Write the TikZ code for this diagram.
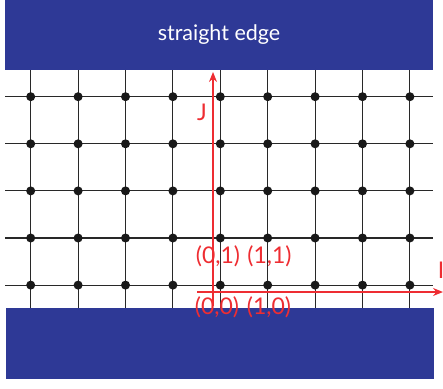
\documentclass[tikz,border=0pt]{standalone}
\usepackage{fontspec}
\setmainfont{Lato}
\usetikzlibrary{arrows.meta}
\definecolor{edgeblue}{RGB}{46,57,150}
\definecolor{axisred}{RGB}{238,45,50}
\definecolor{gridgray}{RGB}{40,40,40}
\begin{document}
\begin{tikzpicture}[x=1pt,y=-1pt,
  gridline/.style={draw=gridgray,line width=1.1pt},
  dot/.style={circle,fill=black!90,inner sep=0pt,minimum size=9pt},
  edgebar/.style={fill=edgeblue,inner sep=0pt,minimum width=428pt,minimum height=70pt},
  axis/.style={draw=axisred,line width=1.4pt,-{Stealth[length=10pt,width=8pt]}},
  lbl/.style={text=axisred,inner sep=0pt,font=\fontsize{23}{23}\selectfont}]
\useasboundingbox (0,0) rectangle (443,388);
% grid lines
\foreach \c in {0,...,8} {
  \coordinate (vt\c) at ({30.7+47.4*\c},70);
  \coordinate (vb\c) at ({30.7+47.4*\c},308);
  \draw[gridline] (vt\c) -- (vb\c);
}
\foreach \r in {0,...,4} {
  \coordinate (hl\r) at (5,{96.7+47.1*\r});
  \coordinate (hr\r) at (433,{96.7+47.1*\r});
  \draw[gridline] (hl\r) -- (hr\r);
}
\foreach \c in {0,...,8} {
  \foreach \r in {0,...,4} {
    \node[dot] (d\c-\r) at ({30.7+47.4*\c},{96.7+47.1*\r}) {};
  }
}
% straight edges
\node[edgebar,minimum height=70pt,text=white,font=\fontsize{21.5}{21.5}\selectfont] (top) at (219,35) {straight edge};
\node[edgebar,minimum height=71pt] (bottom) at (220,343.5) {};
% axes
\coordinate (jbase) at (213,306);
\coordinate (jtip) at (213,72);
\draw[axis] (jbase) -- (jtip);
\coordinate (ibase) at (197,292);
\coordinate (itip) at (443,292);
\draw[axis] (ibase) -- (itip);
\node[lbl] (jlab) at (202,112) {J};
\node[lbl] (ilab) at (441,270) {I};
\node[lbl] (l01) at (218,256) {(0,1)};
\node[lbl] (l11) at (269.5,256) {(1,1)};
\node[lbl] (l00) at (217,307) {(0,0)};
\node[lbl] (l10) at (269,307) {(1,0)};
\end{tikzpicture}
\end{document}
